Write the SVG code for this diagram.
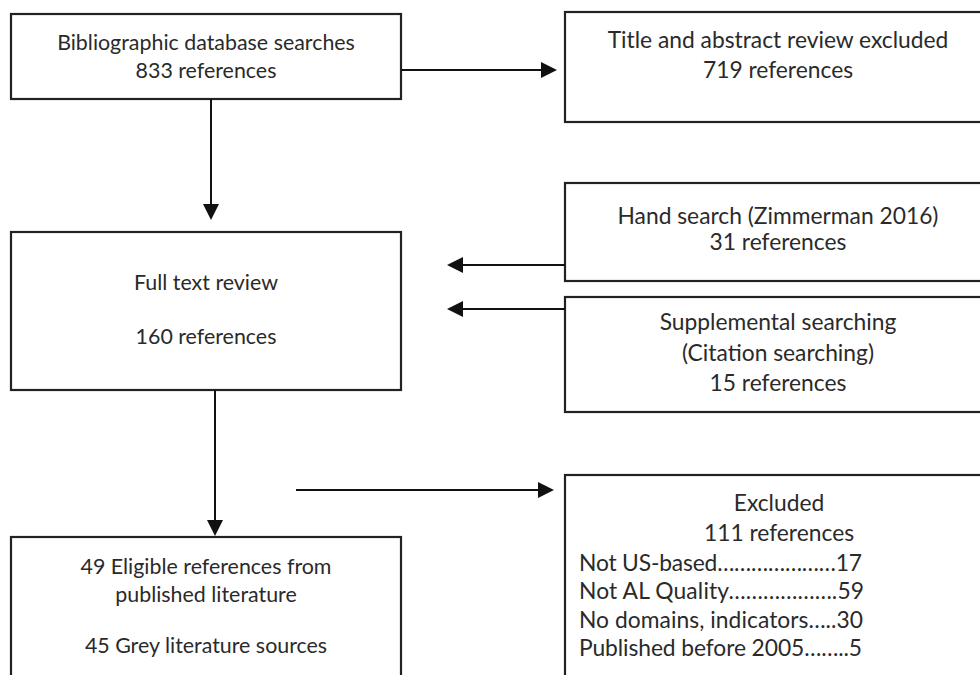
<svg xmlns="http://www.w3.org/2000/svg" width="980" height="675" viewBox="0 0 980 675">
<style>
.box{fill:#fff;stroke:#222;stroke-width:2.2}
text{font-family:Lato,"Open Sans","Liberation Sans",sans-serif;font-size:21.4px;fill:#2a2a2a}
.r{font-size:22.8px}
.c{text-anchor:middle}
.ln{stroke:#111;stroke-width:2;fill:none;marker-end:url(#ah)}
</style>
<defs>
<marker id="ah" markerWidth="8" markerHeight="8" refX="7" refY="4" orient="auto" markerUnits="strokeWidth">
<path d="M0,0 L8,4 L0,8 Z" fill="#111"/>
</marker>
</defs>
<rect width="980" height="675" fill="#fff"/>
<g id="n1"><rect class="box" x="11" y="14" width="390" height="85"/>
<text class="c" x="206" y="50">Bibliographic database searches</text>
<text class="c" x="206" y="78">833 references</text></g>
<g id="n2"><rect class="box" x="565" y="12" width="430" height="110"/>
<text class="c r" x="778" y="48">Title and abstract review excluded</text>
<text class="c r" x="778" y="78">719 references</text></g>
<g id="n3"><rect class="box" x="11" y="232" width="390" height="158"/>
<text class="c" x="206" y="290">Full text review</text>
<text class="c" x="206" y="344">160 references</text></g>
<g id="n4"><rect class="box" x="565" y="183" width="430" height="98"/>
<text class="c r" x="778" y="224">Hand search (Zimmerman 2016)</text>
<text class="c r" x="778" y="250">31 references</text></g>
<g id="n5"><rect class="box" x="565" y="297" width="430" height="115"/>
<text class="c r" x="778" y="330">Supplemental searching</text>
<text class="c r" x="778" y="361">(Citation searching)</text>
<text class="c r" x="778" y="391">15 references</text></g>
<g id="n6"><rect class="box" x="11" y="537" width="390" height="160"/>
<text class="c" x="206" y="574">49 Eligible references from</text>
<text class="c" x="206" y="602">published literature</text>
<text class="c" x="206" y="653">45 Grey literature sources</text></g>
<g id="n7"><rect class="box" x="565" y="475" width="430" height="220"/>
<text class="c r" x="779" y="511">Excluded</text>
<text class="c r" x="779" y="541">111 references</text>
<text class="r" x="579" y="571" textLength="283" lengthAdjust="spacing">Not US-based…………………17</text>
<text class="r" x="579" y="599" textLength="285" lengthAdjust="spacing">Not AL Quality……………….59</text>
<text class="r" x="579" y="628" textLength="284" lengthAdjust="spacing">No domains, indicators…..30</text>
<text class="r" x="579" y="656" textLength="283" lengthAdjust="spacing">Published before 2005……..5</text></g>
<g id="connectors">
<line class="ln" x1="401" y1="70" x2="555" y2="70"/>
<line class="ln" x1="211" y1="99" x2="211" y2="218"/>
<line class="ln" x1="565" y1="265" x2="449" y2="265"/>
<line class="ln" x1="565" y1="309" x2="449" y2="309"/>
<line class="ln" x1="215" y1="390" x2="215" y2="534"/>
<line class="ln" x1="296" y1="490" x2="552" y2="490"/>
</g>
</svg>
